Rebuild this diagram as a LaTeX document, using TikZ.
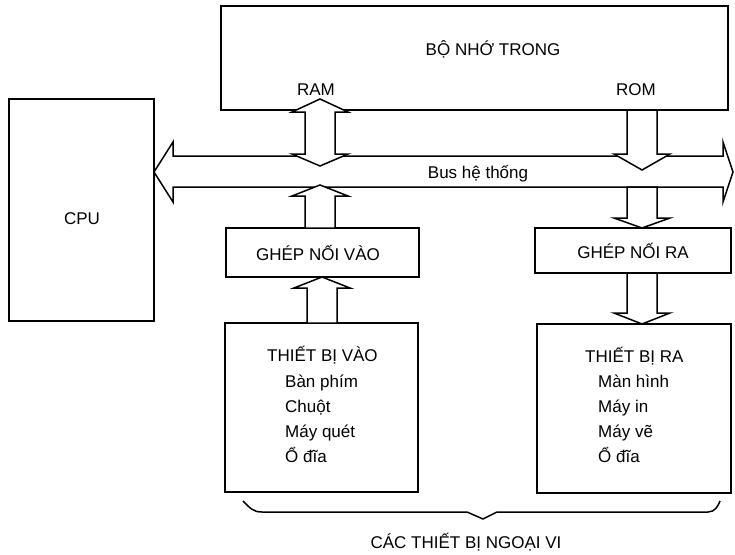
\documentclass[tikz,border=0pt]{standalone}
\usepackage{fontspec}
\setmainfont{Liberation Sans}
\begin{document}
\begin{tikzpicture}[x=1pt,y=-1pt,
  box/.style={draw, line width=1.5pt, minimum width=#1, inner sep=0pt},
  lbl/.style={font=\fontsize{17}{19}\selectfont, inner sep=0pt, anchor=base},
  lbw/.style={font=\fontsize{17}{19}\selectfont, inner sep=0pt, anchor=base west},
  fat/.style={draw, fill=white, line width=1.5pt, line join=miter}]
\useasboundingbox (0,0) rectangle (735,554);
\fill[white] (0,0) rectangle (735,554);
% boxes
\node[box=145pt, minimum height=222pt] (cpu) at (81.5,210) {};
\node[box=507pt, minimum height=104pt] (mem) at (474.5,58) {};
\node[box=193pt, minimum height=49pt] (gnv) at (322.5,252.5) {};
\node[box=196pt, minimum height=45pt] (gnr) at (633,250.5) {};
\node[box=193pt, minimum height=169pt] (tbv) at (321.5,407.5) {};
\node[box=194pt, minimum height=169pt] (tbr) at (634,408.5) {};
% bus
\draw[fat] (154,172) -- (173,142) -- (173,156) -- (723,156) -- (723,142)
  -- (733,172) -- (723,202) -- (723,187) -- (173,187) -- (173,202) -- cycle;
% RAM double arrow
\draw[fat] (320,99) -- (348,112) -- (335,112) -- (335,154) -- (348,154)
  -- (320,166) -- (292,154) -- (305,154) -- (305,112) -- (292,112) -- cycle;
% ROM arrow down to bus
\draw[fat] (627,110) -- (627,154) -- (614,154) -- (642,170) -- (670,154)
  -- (657,154) -- (657,110) -- cycle;
% bus down to GHEP NOI RA
\draw[fat] (627,187) -- (627,218) -- (614,218) -- (642,228) -- (670,218)
  -- (657,218) -- (657,187) -- cycle;
% GHEP NOI RA down to THIET BI RA
\draw[fat] (627,273) -- (627,313) -- (614,313) -- (642,324) -- (670,313)
  -- (657,313) -- (657,273) -- cycle;
% GHEP NOI VAO up to bus
\draw[fat] (305,228) -- (305,196) -- (292,196) -- (320,185) -- (348,196)
  -- (335,196) -- (335,228) -- cycle;
% THIET BI VAO up to GHEP NOI VAO
\draw[fat] (307,323) -- (307,288) -- (294,288) -- (322,277) -- (350,288)
  -- (337,288) -- (337,323) -- cycle;
% texts
\node[lbl] (tcpu) at (82,224) {CPU};
\node[lbl] (tmem) at (493,55) {BỘ NHỚ TRONG};
\node[lbl] (tram) at (316,95) {RAM};
\node[lbl] (trom) at (636,95) {ROM};
\node[lbl] (tbus) at (478,178) {Bus hệ thống};
\node[lbl] (tgnv) at (318,260) {GHÉP NỐI VÀO};
\node[lbl] (tgnr) at (633,258) {GHÉP NỐI RA};
\node[lbw] (v0) at (267,361) {THIẾT BỊ VÀO};
\node[lbw] (v1) at (285,387) {Bàn phím};
\node[lbw] (v2) at (285,412) {Chuột};
\node[lbw] (v3) at (285,437) {Máy quét};
\node[lbw] (v4) at (285,462) {Ổ đĩa};
\node[lbw] (r0) at (585,362) {THIẾT BỊ RA};
\node[lbw] (r1) at (598,387) {Màn hình};
\node[lbw] (r2) at (598,412) {Máy in};
\node[lbw] (r3) at (598,437) {Máy vẽ};
\node[lbw] (r4) at (598,462) {Ổ đĩa};
% brace
\draw[line width=1.5pt, line join=miter] (243,501) .. controls (250,508) and (253,512) .. (262,512)
  -- (467,512) -- (483,519) -- (497,512) -- (708,512)
  .. controls (715,512) and (718,506) .. (720,501);
\node[lbl] (tngv) at (466,548) {CÁC THIẾT BỊ NGOẠI VI};
\end{tikzpicture}
\end{document}
